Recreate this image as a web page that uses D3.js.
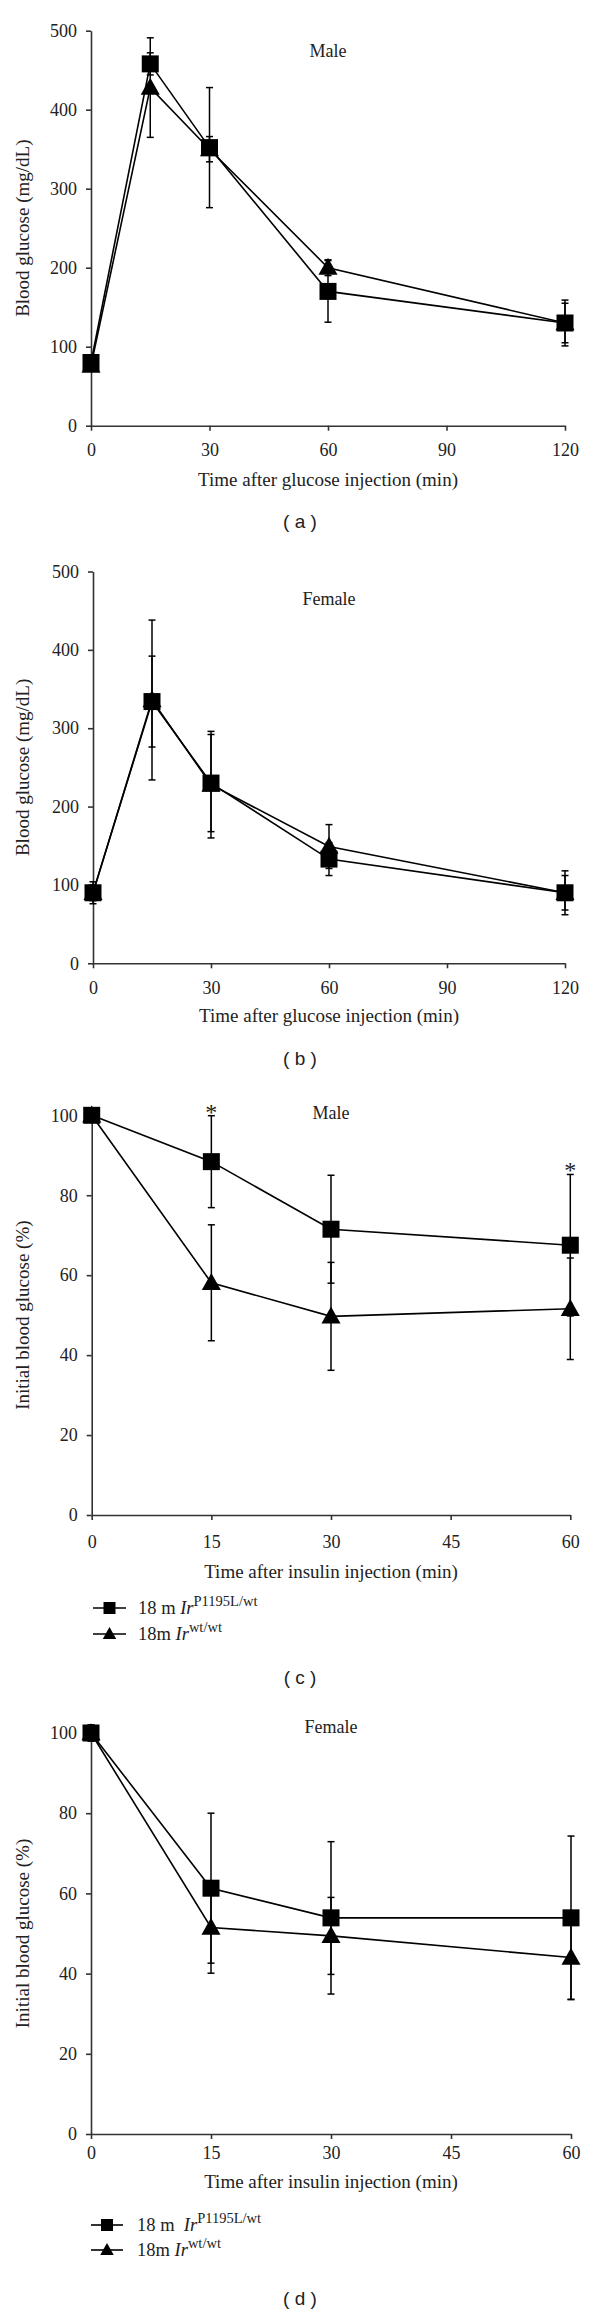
<!DOCTYPE html>
<html><head><meta charset="utf-8">
<script src="https://cdn.jsdelivr.net/npm/d3@7"></script>
<style>body{margin:0;background:#fff} svg{display:block}</style>
</head><body>
<svg id="c" width="600" height="2312"></svg>
<script>
// ---------- data ----------
const timesGTT = [0, 15, 30, 60, 120];
const timesITT = [0, 15, 30, 60];
const xTicksGTT = [0, 30, 60, 90, 120];
const xTicksITT = [0, 15, 30, 45, 60];
const yTicksGTT = [0, 100, 200, 300, 400, 500];
const yTicksITT = [0, 20, 40, 60, 80, 100];

// (a) Male GTT
const gttMaleMut    = [80, 458, 352, 170, 130];
const gttMaleMutErr = [6, 14, 76, 39, 29];
const gttMaleWt     = [76, 428, 350, 200, 130];
const gttMaleWtErr  = [6, 63, 16, 10, 25];
// (b) Female GTT
const gttFemMut    = [90, 334, 230, 133, 90];
const gttFemMutErr = [14, 58, 62, 21, 28];
const gttFemWt     = [90, 336, 228, 149, 90];
const gttFemWtErr  = [10, 102, 68, 28, 22];
// (c) Male ITT
const ittMaleMut    = [100, 88.4, 71.5, 67.5];
const ittMaleMutErr = [0.5, 11.5, 13.5, 17.7];
const ittMaleWt     = [100, 58.1, 49.7, 51.6];
const ittMaleWtErr  = [0.5, 14.5, 13.5, 12.7];
const ittMaleStars  = [15, 60];
// (d) Female ITT
const ittFemMut    = [100, 61.3, 53.9, 53.9];
const ittFemMutErr = [2, 18.7, 19, 20.4];
const ittFemWt     = [100, 51.5, 49.4, 44.0];
const ittFemWtErr  = [2, 11.4, 9.6, 10.4];

const legendMut = {pre: "18 m ", it: "Ir", sup: "P1195L/wt"};
const legendWt  = {pre: "18m ", it: "Ir", sup: "wt/wt"};

// ---------- drawing ----------
const SERIF = "'Liberation Serif', 'Times New Roman', serif";
const SANS = "'Liberation Sans', Arial, sans-serif";
const svg = d3.select("#c");

function drawPanel(p) {
  const x = d3.scaleLinear().domain(p.xDomain).range([p.x0, p.x1]);
  const y = d3.scaleLinear().domain(p.yDomain).range([p.yBot, p.yTop]);
  const g = svg.append("g");

  const ya = g.append("g").attr("transform", `translate(${p.x0},0)`)
    .call(d3.axisLeft(y).tickValues(p.yTicks).tickSize(5).tickSizeOuter(0).tickPadding(9));
  const xa = g.append("g").attr("transform", `translate(0,${p.yBot})`)
    .call(d3.axisBottom(x).tickValues(p.xTicks).tickSize(5).tickSizeOuter(0).tickPadding(p.xLabOff - 6.7 - 5));
  [ya, xa].forEach(a => {
    a.select(".domain").attr("stroke", "#333").attr("stroke-width", 1.6);
    a.selectAll(".tick line").attr("stroke", "#333").attr("stroke-width", 1.6);
    a.selectAll("text").attr("font-family", SERIF).attr("font-size", 18).attr("fill", "#222");
  });

  // axis titles
  g.append("text").attr("x", (p.x0 + p.x1) / 2).attr("y", p.titleY).attr("dy", "0.32em")
    .attr("text-anchor", "middle").attr("font-family", SERIF).attr("font-size", 19).attr("fill", "#222")
    .text(p.xTitle);
  g.append("text").attr("transform", `translate(${p.yTitleX},${(p.yTop + p.yBot) / 2}) rotate(-90)`)
    .attr("dy", "0.32em").attr("text-anchor", "middle").attr("font-family", SERIF)
    .attr("font-size", 19).attr("fill", "#222").text(p.yTitle);

  // sex note
  g.append("text").attr("x", x(p.note.x)).attr("y", p.note.py).attr("dy", "0.35em")
    .attr("text-anchor", "middle").attr("font-family", SERIF).attr("font-size", 18).attr("fill", "#222")
    .text(p.note.t);

  const line = d3.line().x(d => x(d[0])).y(d => y(d[1]));
  const series = [
    {v: p.wt, e: p.wtErr, shape: "tri"},
    {v: p.mut, e: p.mutErr, shape: "sq"}
  ];
  series.forEach(s => {
    g.append("path").datum(p.times.map((t, i) => [t, s.v[i]]))
      .attr("d", line).attr("fill", "none").attr("stroke", "#000").attr("stroke-width", 1.6);
  });
  series.forEach(s => {
    p.times.forEach((t, i) => {
      const cx = x(t), ylo = y(s.v[i] - s.e[i]), yhi = y(s.v[i] + s.e[i]);
      g.append("line").attr("x1", cx).attr("x2", cx).attr("y1", ylo).attr("y2", yhi)
        .attr("stroke", "#000").attr("stroke-width", 1.5);
      [ylo, yhi].forEach(yy => g.append("line").attr("x1", cx - 3.5).attr("x2", cx + 3.5)
        .attr("y1", yy).attr("y2", yy).attr("stroke", "#000").attr("stroke-width", 1.5));
    });
  });
  series.forEach(s => {
    p.times.forEach((t, i) => drawMarker(g, s.shape, x(t), y(s.v[i]), 17));
  });

  if (p.stars) {
    p.stars.forEach(t => {
      const i = p.times.indexOf(t);
      g.append("text").attr("x", x(t)).attr("y", y(p.mut[i] + p.mutErr[i]) + 4)
        .attr("text-anchor", "middle").attr("font-family", SERIF).attr("font-size", 24).attr("fill", "#222")
        .text("*");
    });
  }

  if (p.legend) {
    [[legendMut, "sq"], [legendWt, "tri"]].forEach(([L, shape], k) => {
      const ly = p.legend.rows[k];
      g.append("line").attr("x1", p.legend.lx0).attr("x2", p.legend.lx1).attr("y1", ly).attr("y2", ly)
        .attr("stroke", "#000").attr("stroke-width", 1.6);
      drawMarker(g, shape, (p.legend.lx0 + p.legend.lx1) / 2, ly, 12);
      const t = g.append("text").attr("x", p.legend.tx).attr("y", ly + 6)
        .attr("font-family", SERIF).attr("font-size", 18.5).attr("fill", "#222")
        .attr("xml:space", "preserve");
      t.append("tspan").text(L.pre + (k === 0 ? p.legend.extraSpace : ""));
      t.append("tspan").attr("font-style", "italic").text(L.it);
      t.append("tspan").attr("font-size", 14.5).attr("dy", -8).text(L.sup);
    });
  }

  svg.append("text").attr("x", 300).attr("y", p.panelLabelY).attr("dy", "0.35em")
    .attr("text-anchor", "middle").attr("font-family", SANS).attr("font-size", 19).attr("fill", "#222")
    .attr("xml:space", "preserve").text(p.panelLabel);
}

function drawMarker(g, shape, cx, cy, s) {
  if (shape === "sq") {
    g.append("rect").attr("x", cx - s / 2).attr("y", cy - s / 2).attr("width", s).attr("height", s).attr("fill", "#000");
  } else {
    const w = s * 1.12, h = s;
    g.append("path").attr("d", `M${cx},${cy - h * 0.58}L${cx - w / 2},${cy + h * 0.42}L${cx + w / 2},${cy + h * 0.42}Z`)
      .attr("fill", "#000");
  }
}

const gttX = "Time after glucose injection (min)";
const ittX = "Time after insulin injection (min)";

drawPanel({
  xDomain: [0, 120], yDomain: [0, 500], xTicks: xTicksGTT, yTicks: yTicksGTT,
  x0: 91, x1: 565, yTop: 30.7, yBot: 425.7, xLabOff: 24.3, titleY: 480, yTitleX: 23,
  xTitle: gttX, yTitle: "Blood glucose (mg/dL)", note: {t: "Male", x: 60, py: 50.7},
  times: timesGTT, mut: gttMaleMut, mutErr: gttMaleMutErr, wt: gttMaleWt, wtErr: gttMaleWtErr,
  panelLabel: "( a )", panelLabelY: 521
});
drawPanel({
  xDomain: [0, 120], yDomain: [0, 500], xTicks: xTicksGTT, yTicks: yTicksGTT,
  x0: 93, x1: 565, yTop: 571.5, yBot: 963.3, xLabOff: 25, titleY: 1016, yTitleX: 23,
  xTitle: gttX, yTitle: "Blood glucose (mg/dL)", note: {t: "Female", x: 60, py: 599},
  times: timesGTT, mut: gttFemMut, mutErr: gttFemMutErr, wt: gttFemWt, wtErr: gttFemWtErr,
  panelLabel: "( b )", panelLabelY: 1058
});
drawPanel({
  xDomain: [0, 60], yDomain: [0, 100], xTicks: xTicksITT, yTicks: yTicksITT,
  x0: 91.7, x1: 570.3, yTop: 1115.3, yBot: 1515, xLabOff: 27, titleY: 1572, yTitleX: 23,
  xTitle: ittX, yTitle: "Initial blood glucose (%)", note: {t: "Male", x: 30, py: 1112.6},
  times: timesITT, mut: ittMaleMut, mutErr: ittMaleMutErr, wt: ittMaleWt, wtErr: ittMaleWtErr,
  stars: ittMaleStars,
  legend: {rows: [1608, 1634], lx0: 93, lx1: 126, tx: 138, extraSpace: ""},
  panelLabel: "( c )", panelLabelY: 1677
});
drawPanel({
  xDomain: [0, 60], yDomain: [0, 100], xTicks: xTicksITT, yTicks: yTicksITT,
  x0: 91, x1: 571, yTop: 1733, yBot: 2134, xLabOff: 19.3, titleY: 2182, yTitleX: 23,
  xTitle: ittX, yTitle: "Initial blood glucose (%)", note: {t: "Female", x: 30, py: 1727},
  times: timesITT, mut: ittFemMut, mutErr: ittFemMutErr, wt: ittFemWt, wtErr: ittFemWtErr,
  legend: {rows: [2225, 2250], lx0: 91, lx1: 123, tx: 137, extraSpace: " "},
  panelLabel: "( d )", panelLabelY: 2298
});
</script>
</body></html>
